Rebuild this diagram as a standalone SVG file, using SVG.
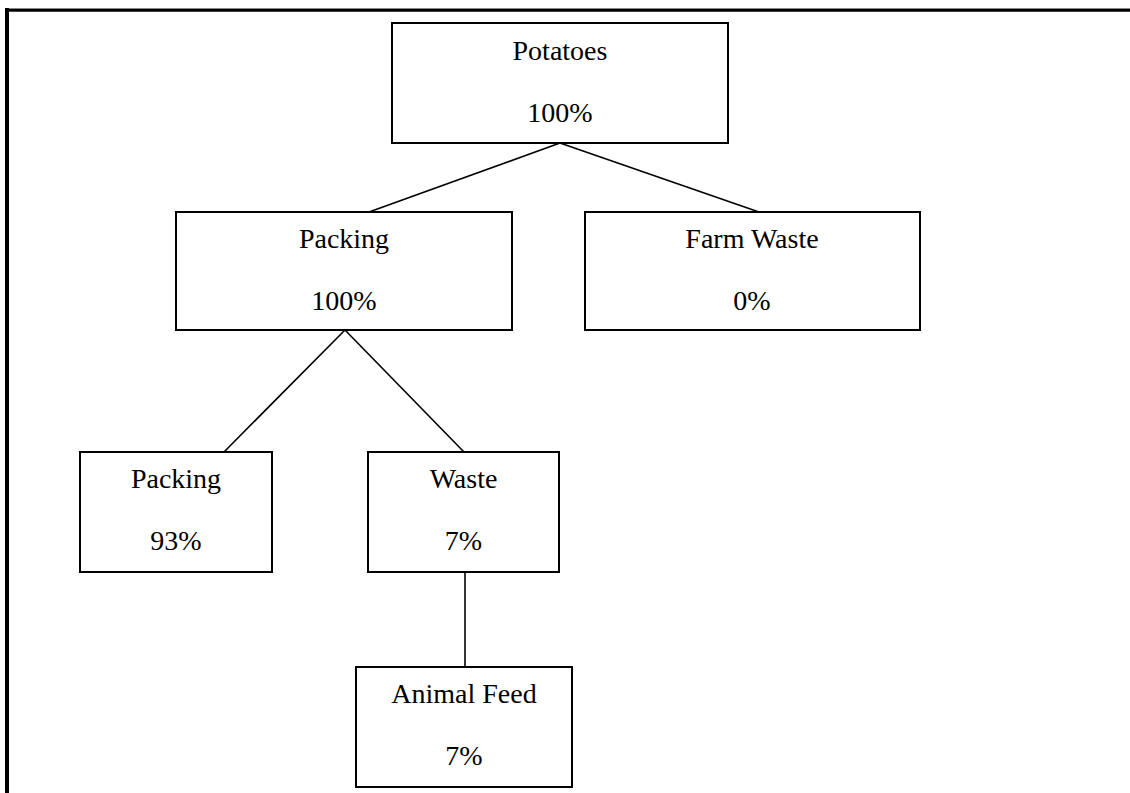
<svg xmlns="http://www.w3.org/2000/svg" width="1130" height="793" viewBox="0 0 1130 793">
<style>
.box{fill:#fff;stroke:#000;stroke-width:2}
.t{font-family:'Times New Roman','Liberation Serif','DejaVu Serif',serif;font-size:28px;fill:#000;text-anchor:middle}
.c{stroke:#000;stroke-width:1.6;fill:none}
</style>
<rect width="1130" height="793" fill="#fff"/>
<g id="frame">
<line x1="5" y1="10" x2="1130" y2="10" stroke="#000" stroke-width="3.5"/>
<line x1="5" y1="8.5" x2="1130" y2="8.5" stroke="#888" stroke-width="1"/>
<line x1="7" y1="8" x2="7" y2="793" stroke="#000" stroke-width="4"/>
</g>
<g id="connectors">
<line class="c" x1="560" y1="143" x2="369" y2="212"/>
<line class="c" x1="560" y1="143" x2="759" y2="212"/>
<line class="c" x1="345" y1="330" x2="224" y2="452"/>
<line class="c" x1="345" y1="330" x2="464" y2="452"/>
<line class="c" x1="465" y1="572" x2="465" y2="667"/>
</g>
<g id="potatoes">
<rect class="box" x="392" y="23" width="336" height="120"/>
<text class="t" x="560" y="60">Potatoes</text>
<text class="t" x="560" y="122">100%</text>
</g>
<g id="packing1">
<rect class="box" x="176" y="212" width="336" height="118"/>
<text class="t" x="344" y="248">Packing</text>
<text class="t" x="344" y="310">100%</text>
</g>
<g id="farmwaste">
<rect class="box" x="585" y="212" width="335" height="118"/>
<text class="t" x="752" y="248">Farm Waste</text>
<text class="t" x="752" y="310">0%</text>
</g>
<g id="packing2">
<rect class="box" x="80" y="452" width="192" height="120"/>
<text class="t" x="176" y="488">Packing</text>
<text class="t" x="176" y="550">93%</text>
</g>
<g id="waste">
<rect class="box" x="368" y="452" width="191" height="120"/>
<text class="t" x="463.5" y="488">Waste</text>
<text class="t" x="463.5" y="550">7%</text>
</g>
<g id="animalfeed">
<rect class="box" x="356" y="667" width="216" height="120"/>
<text class="t" x="464" y="703">Animal Feed</text>
<text class="t" x="464" y="765">7%</text>
</g>
</svg>
